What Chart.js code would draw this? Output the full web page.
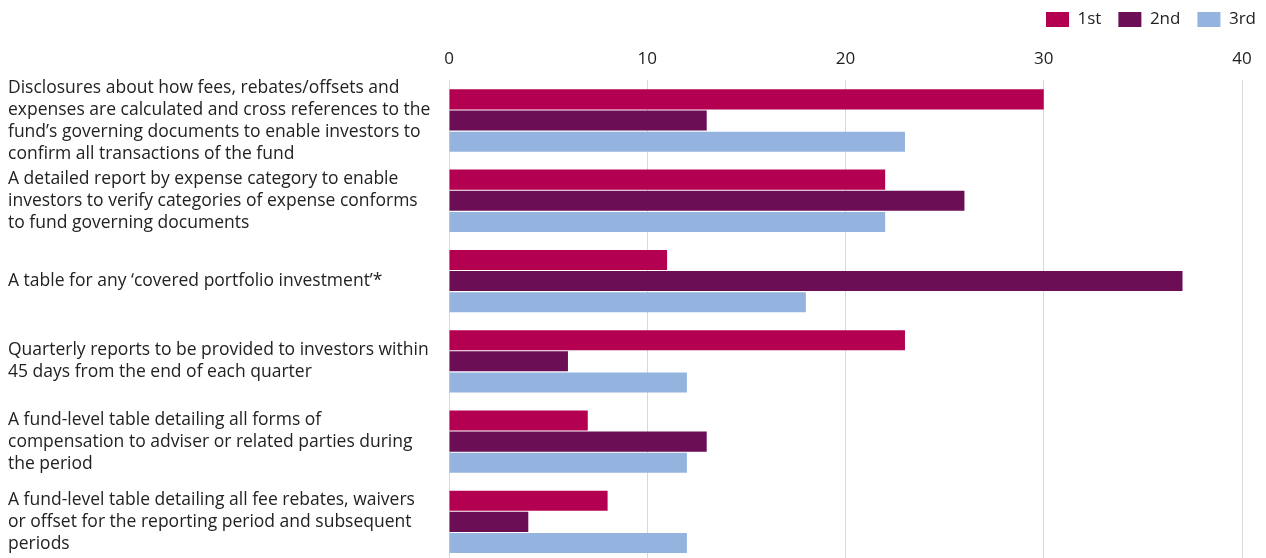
<!DOCTYPE html>
<html>
<head>
<meta charset="utf-8">
<script src="https://cdn.jsdelivr.net/npm/chart.js@4.4.1/dist/chart.umd.min.js"></script>
<style>
  html, body { margin: 0; padding: 0; background: #fff; overflow: hidden; }
  #wrap { position: relative; width: 1266px; height: 562px; }
</style>
</head>
<body>
<div id="wrap"><canvas id="chart"></canvas></div>
<script>
// Survey: ranking of disclosure items (count of 1st / 2nd / 3rd choices)
const categories = [
  ["Disclosures about how fees, rebates/offsets and",
   "expenses are calculated and cross references to the",
   "fund\u2019s governing documents to enable investors to",
   "confirm all transactions of the fund"],
  ["A detailed report by expense category to enable",
   "investors to verify categories of expense conforms",
   "to fund governing documents"],
  ["A table for any \u2018covered portfolio investment\u2019*"],
  ["Quarterly reports to be provided to investors within",
   "45 days from the end of each quarter"],
  ["A fund-level table detailing all forms of",
   "compensation to adviser or related parties during",
   "the period"],
  ["A fund-level table detailing all fee rebates, waivers",
   "or offset for the reporting period and subsequent",
   "periods"]
];

const first = [30, 22, 11, 23, 7, 8];
const second = [13, 26, 37, 6, 13, 4];
const third = [23, 22, 18, 12, 12, 12];

const xTicks = [0, 10, 20, 30, 40];

const FONT = "'Open Sans', 'Noto Sans', sans-serif";
const TEXT = "#222222";
const GRID = "#d9d9d9";

const ctx = document.getElementById("chart").getContext("2d");

new Chart(ctx, {
  type: "bar",
  data: {
    labels: categories,
    datasets: [
      { label: "1st", data: first, backgroundColor: "#b40050" },
      { label: "2nd", data: second, backgroundColor: "#6b0e56" },
      { label: "3rd", data: third, backgroundColor: "#95b3df" }
    ]
  },
  options: {
    indexAxis: "y",
    responsive: true,
    maintainAspectRatio: false,
    animation: false,
    datasets: {
      bar: { categoryPercentage: 0.79, barPercentage: 0.95 }
    },
    // negative right padding lets the legend sit closer to the edge
    layout: { padding: { left: 8, right: -7, top: -6, bottom: 0 } },
    plugins: {
      tooltip: { enabled: false },
      legend: {
        position: "top",
        align: "end",
        labels: {
          boxWidth: 23,
          boxHeight: 15,
          padding: 17,
          color: TEXT,
          font: { family: FONT, size: 17 }
        }
      }
    },
    scales: {
      x: {
        position: "top",
        min: 0,
        max: 40,
        afterBuildTicks: (scale) => {
          scale.ticks = xTicks.map((v) => ({ value: v }));
        },
        afterFit: (scale) => { scale.paddingRight = 24; },
        grid: { color: GRID, lineWidth: 1, drawTicks: false },
        border: { display: false },
        ticks: {
          color: TEXT,
          padding: 11,
          font: { family: FONT, size: 17 }
        }
      },
      y: {
        grid: { display: false },
        border: { display: false },
        afterFit: (scale) => {
          scale.width = 441;
          scale.paddingTop = 0;
          scale.paddingBottom = 0;
        },
        ticks: {
          crossAlign: "far",
          color: TEXT,
          padding: 0,
          autoSkip: false,
          font: { family: FONT, size: 17.5, lineHeight: 22 / 17.5 }
        }
      }
    }
  }
});
</script>
</body>
</html>
